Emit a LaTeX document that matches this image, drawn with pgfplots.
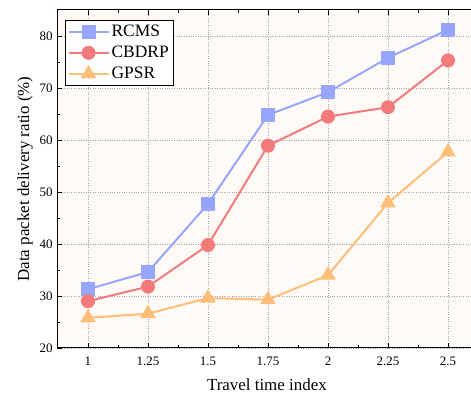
\documentclass[border=0pt]{standalone}
\usepackage{pgfplots}
\pgfplotsset{compat=1.18}
\usepackage{fontspec}
\setmainfont{Liberation Serif}
\definecolor{cblue}{RGB}{150,165,255}
\definecolor{cred}{RGB}{242,122,122}
\definecolor{corange}{RGB}{255,190,120}
\definecolor{cbg}{RGB}{255,250,246}
\begin{document}
\fontsize{13}{15}\selectfont
\begin{tikzpicture}
\begin{axis}[
  name=ax,
  scale only axis,
  width=419.8bp, height=338bp,
  xmin=0.871, xmax=2.62,
  ymin=20, ymax=85,
  xtick={1,1.25,1.5,1.75,2,2.25,2.5},
  xticklabels={1,1.25,1.5,1.75,2,2.25,2.5},
  ytick={20,30,40,50,60,70,80},
  minor x tick num=1,
  minor y tick num=1,
  tick align=inside,
  xtick pos=both, ytick pos=left,
  major tick length=5pt, minor tick length=3pt,
  axis line style={line width=1pt},
  every tick/.style={black, line width=0.8pt},
  grid=major,
  major grid style={gray!70, dotted, line width=0.7pt},
  axis background/.style={fill=cbg},
  /pgf/number format/assume math mode=true,
  ticklabel style={font=\fontsize{13}{15}\selectfont},
  xticklabel style={yshift=-4bp},
  xlabel={Travel time index},
  ylabel={Data packet delivery ratio (\%)},
  label style={font=\fontsize{17}{19}\selectfont},
  xlabel style={at={(axis description cs:0.5,-0.1095)}, anchor=center},
  ylabel style={at={(axis description cs:-0.0762,0.5)}, anchor=center},
  legend style={at={(0.018,0.97)}, anchor=north west, draw=black, line width=1pt, font=\fontsize{17.5}{20}\selectfont, fill=white, inner sep=2.5pt, row sep=3.5pt},
  legend cell align=left,
  legend image code/.code={
    \draw[mark repeat=2, mark phase=2, line width=2pt] plot coordinates {(0bp,0bp) (20bp,0bp) (40bp,0bp)};
  },
]
\addplot[color=cblue, line width=2pt, mark=square*, mark size=6pt, mark options={solid}] coordinates {
(1,31.3) (1.25,34.6) (1.5,47.7) (1.75,64.8) (2,69.2) (2.25,75.8) (2.5,81.2)};
\addlegendentry{RCMS}
\addplot[color=cred, line width=2pt, mark=*, mark size=6pt] coordinates {
(1,29.0) (1.25,31.8) (1.5,39.8) (1.75,58.9) (2,64.5) (2.25,66.3) (2.5,75.3)};
\addlegendentry{CBDRP}
\addplot[color=corange, line width=2pt, mark=triangle*, mark size=7pt] coordinates {
(1,25.8) (1.25,26.6) (1.5,29.6) (1.75,29.3) (2,34.0) (2.25,47.9) (2.5,57.7)};
\addlegendentry{GPSR}
\end{axis}
\pgfresetboundingbox
\path ([shift={(-57bp,-51bp)}]ax.south west) rectangle ([shift={(414bp,10bp)}]ax.north west);
\end{tikzpicture}
\end{document}
